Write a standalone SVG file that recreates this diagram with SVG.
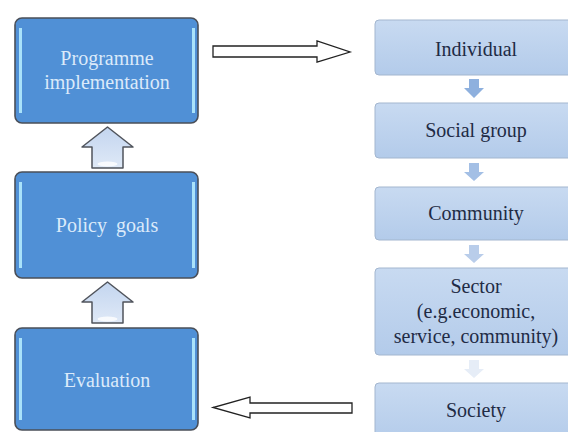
<svg xmlns="http://www.w3.org/2000/svg" width="568" height="432" viewBox="0 0 568 432">
  <defs>
    <linearGradient id="lvl" x1="0" y1="0" x2="0" y2="1">
      <stop offset="0" stop-color="#c8daf1"/>
      <stop offset="1" stop-color="#b3cbea"/>
    </linearGradient>
    <linearGradient id="up" x1="0" y1="0" x2="0" y2="1">
      <stop offset="0" stop-color="#c3d5ef"/>
      <stop offset="1" stop-color="#dfe9f7"/>
    </linearGradient>
  </defs>
  <style>
    .stage rect.box { fill: #5090d6; stroke: #4a4f58; stroke-width: 1.6; }
    .stage rect.shine { fill: #a9e2fa; }
    .stage text { font-size: 20px; fill: #dbeafa; text-anchor: middle; }
    .level rect { fill: url(#lvl); stroke: #a3b6cf; stroke-width: 1; }
    .level text { font-size: 20px; fill: #1f2b45; text-anchor: middle; }
    .uparrow { fill: url(#up); stroke: #50545c; stroke-width: 1.5; stroke-linejoin: round; }
    .block { fill: #ffffff; stroke: #222222; stroke-width: 1.3; stroke-linejoin: miter; }
  </style>

  <rect width="568" height="432" fill="#ffffff"/>

  <g font-family="Liberation Serif, Times New Roman, Tinos, DejaVu Serif, Noto Serif, serif">
  <!-- left column: stages -->
  <g id="programme" class="stage">
    <rect class="box" x="15" y="18" width="183" height="105" rx="7"/>
    <rect class="shine" x="19" y="28" width="3" height="85"/>
    <rect class="shine" x="192" y="28" width="3" height="85"/>
    <text x="107" y="65">Programme</text>
    <text x="107" y="89">implementation</text>
  </g>
  <g id="policy" class="stage">
    <rect class="box" x="15" y="172" width="183" height="106" rx="7"/>
    <rect class="shine" x="19" y="182" width="3" height="86"/>
    <rect class="shine" x="192" y="182" width="3" height="86"/>
    <text x="107" y="232" word-spacing="4">Policy goals</text>
  </g>
  <g id="evaluation" class="stage">
    <rect class="box" x="15" y="328" width="183" height="102" rx="7"/>
    <rect class="shine" x="19" y="338" width="3" height="82"/>
    <rect class="shine" x="192" y="338" width="3" height="82"/>
    <text x="107" y="387">Evaluation</text>
  </g>

  <!-- right column: levels -->
  <g id="individual" class="level">
    <rect x="375" y="20" width="210" height="55" rx="4"/>
    <text x="476" y="56">Individual</text>
  </g>
  <g id="social-group" class="level">
    <rect x="375" y="103" width="210" height="55" rx="4"/>
    <text x="476" y="137">Social group</text>
  </g>
  <g id="community" class="level">
    <rect x="375" y="187" width="210" height="53" rx="4"/>
    <text x="476" y="220">Community</text>
  </g>
  <g id="sector" class="level">
    <rect x="375" y="268" width="210" height="87" rx="4"/>
    <text x="476" y="293">Sector</text>
    <text x="476" y="318">(e.g.economic,</text>
    <text x="476" y="343">service, community)</text>
  </g>
  <g id="society" class="level">
    <rect x="375" y="383" width="210" height="60" rx="4"/>
    <text x="476" y="417">Society</text>
  </g>
  </g>

  <!-- connectors -->
  <g id="connectors">
    <!-- upward block arrows between stages -->
    <polygon class="uparrow" points="107.5,127 133,147 123,147 123,168 92,168 92,147 82,147"/>
    <ellipse cx="107.5" cy="164" rx="10" ry="2.5" fill="#ffffff" opacity="0.8"/>
    <polygon class="uparrow" points="107.5,282 133,302 123,302 123,323 92,323 92,302 82,302"/>
    <ellipse cx="107.5" cy="319" rx="10" ry="2.5" fill="#ffffff" opacity="0.8"/>

    <!-- implementation to levels -->
    <polygon class="block" points="213,46 317,46 317,41 350,52 317,62 317,57 213,57"/>
    <!-- levels back to evaluation -->
    <polygon class="block" points="352,403 250,403 250,397 213,407.5 250,418 250,413 352,413"/>

    <!-- small down arrows between levels -->
    <polygon fill="#8eb0de" points="469,79 479,79 479,88 484,88 474,98 464,88 469,88"/>
    <polygon fill="#a3bfe5" points="469,163 479,163 479,172 484,172 474,181 464,172 469,172"/>
    <polygon fill="#b9cdea" points="469,245 479,245 479,254 484,254 474,263 464,254 469,254"/>
    <polygon fill="#e6edf7" points="469,360 479,360 479,369 484,369 474,378 464,369 469,369"/>
  </g>
</svg>
